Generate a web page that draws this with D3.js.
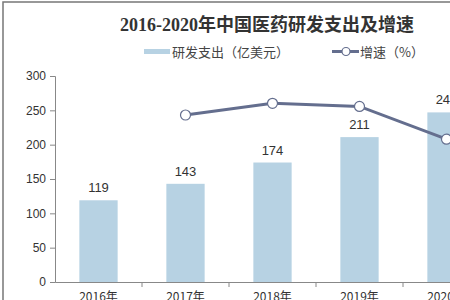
<!DOCTYPE html>
<html>
<head>
<meta charset="utf-8">
<script src="https://cdn.jsdelivr.net/npm/d3@7"></script>
<style>
  body { margin: 0; background: #fff; }
  svg { display: block; }
</style>
</head>
<body>
<div id="chart"></div>
<script>
var years = ["2016年", "2017年", "2018年", "2019年", "2020年"];
var spend = [119, 143, 174, 211, 247];
var growth = [null, 20.2, 21.7, 21.3, 17.1];
var yTicks = [0, 50, 100, 150, 200, 250, 300];

var W = 450, H = 300,
    margin = {top: 76, left: 55, bottom: 18},
    band = 87,
    barColor = "#B7D2E3",
    lineColor = "#646E8E",
    cnFont = "'Noto Sans CJK SC', 'Liberation Sans', sans-serif";

var svg = d3.select("#chart").append("svg")
    .attr("width", W)
    .attr("height", H);

// frame (cut off on the right and bottom in the source)
svg.append("rect")
    .attr("x", 3).attr("y", 2)
    .attr("width", W + 20).attr("height", H + 20)
    .attr("fill", "none")
    .attr("stroke", "#777")
    .attr("stroke-width", 1.5);

var x = d3.scaleBand()
    .domain(years)
    .range([margin.left, margin.left + band * years.length])
    .paddingInner(0.56).paddingOuter(0.28);

var y = d3.scaleLinear()
    .domain([0, 300])
    .range([282, margin.top]);

// hidden secondary axis for growth
var y2 = d3.scaleLinear()
    .domain([-1.2, 25.2])
    .range([282, margin.top]);

// axes
var yAxis = d3.axisLeft(y).tickValues(yTicks).tickSize(5).tickPadding(4);
var gy = svg.append("g")
    .attr("transform", "translate(" + margin.left + ",0)")
    .call(yAxis);
gy.select(".domain").attr("stroke", "#888");
gy.selectAll(".tick line").attr("stroke", "#888");
gy.selectAll("text")
    .attr("font-family", "'Liberation Sans', Arial, sans-serif")
    .attr("font-size", 12)
    .attr("fill", "#333");

var xAxis = d3.axisBottom(x).tickSize(0).tickPadding(10);
var gx = svg.append("g")
    .attr("transform", "translate(0," + y(0) + ")")
    .call(xAxis);
gx.select(".domain").attr("stroke", "#888");
gx.selectAll("text")
    .attr("font-family", cnFont)
    .attr("font-size", 12)
    .attr("fill", "#333");

// category boundary ticks
gx.selectAll(".sep")
    .data(years)
    .enter().append("line")
    .attr("class", "sep")
    .attr("x1", function(d, i) { return margin.left + band * (i + 1); })
    .attr("x2", function(d, i) { return margin.left + band * (i + 1); })
    .attr("y1", 0).attr("y2", 5)
    .attr("stroke", "#888");

// bars
svg.selectAll(".bar")
    .data(spend)
    .enter().append("rect")
    .attr("class", "bar")
    .attr("x", function(d, i) { return x(years[i]); })
    .attr("y", function(d) { return y(d); })
    .attr("width", x.bandwidth())
    .attr("height", function(d) { return y(0) - y(d); })
    .attr("fill", barColor);

svg.selectAll(".bar-label")
    .data(spend)
    .enter().append("text")
    .attr("class", "bar-label")
    .attr("x", function(d, i) { return x(years[i]) + x.bandwidth() / 2; })
    .attr("y", function(d) { return y(d) - 8; })
    .attr("text-anchor", "middle")
    .attr("font-family", "'Liberation Sans', Arial, sans-serif")
    .attr("font-size", 13)
    .attr("fill", "#333")
    .text(function(d) { return d; });

// growth line
var pts = growth.map(function(v, i) { return {year: years[i], v: v}; })
    .filter(function(d) { return d.v != null; });

var line = d3.line()
    .x(function(d) { return x(d.year) + x.bandwidth() / 2; })
    .y(function(d) { return y2(d.v); });

svg.append("path")
    .datum(pts)
    .attr("d", line)
    .attr("fill", "none")
    .attr("stroke", lineColor)
    .attr("stroke-width", 3);

svg.selectAll(".pt")
    .data(pts)
    .enter().append("circle")
    .attr("class", "pt")
    .attr("cx", function(d) { return x(d.year) + x.bandwidth() / 2; })
    .attr("cy", function(d) { return y2(d.v); })
    .attr("r", 5)
    .attr("fill", "#fff")
    .attr("stroke", lineColor)
    .attr("stroke-width", 1.2);

// title
svg.append("text")
    .attr("x", 267).attr("y", 31)
    .attr("text-anchor", "middle")
    .attr("font-family", "'Liberation Serif', 'Noto Sans CJK SC', serif")
    .attr("font-weight", "bold")
    .attr("font-size", 18)
    .attr("fill", "#333")
    .text("2016-2020年中国医药研发支出及增速");

// legend
var lg = svg.append("g").attr("font-family", cnFont).attr("font-size", 13).attr("fill", "#444");
lg.append("rect")
    .attr("x", 144).attr("y", 49)
    .attr("width", 26).attr("height", 5)
    .attr("fill", barColor);
lg.append("text")
    .attr("x", 172).attr("y", 56.5)
    .text("研发支出（亿美元）");
lg.append("line")
    .attr("x1", 332).attr("x2", 359)
    .attr("y1", 51.5).attr("y2", 51.5)
    .attr("stroke", lineColor).attr("stroke-width", 3);
lg.append("circle")
    .attr("cx", 346).attr("cy", 51.5).attr("r", 4)
    .attr("fill", "#fff").attr("stroke", lineColor).attr("stroke-width", 1.2);
lg.append("text")
    .attr("x", 360).attr("y", 56.5)
    .text("增速（%）");
</script>
</body>
</html>
